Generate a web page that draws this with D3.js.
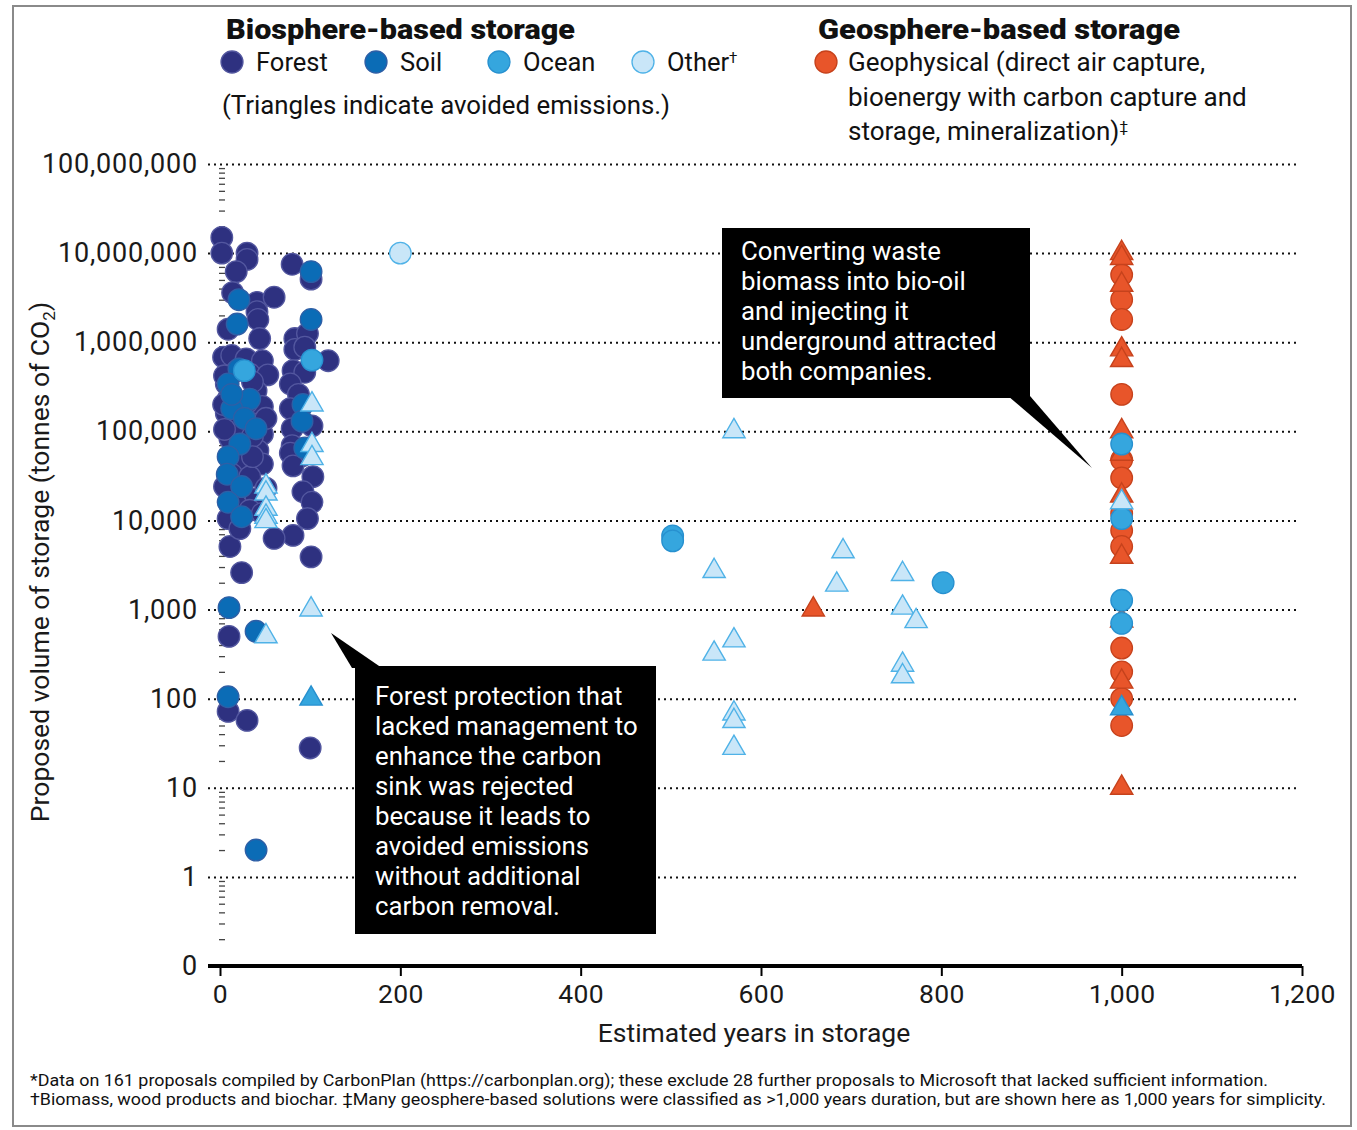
<!DOCTYPE html>
<html>
<head>
<meta charset="utf-8">
<script src="https://cdn.jsdelivr.net/npm/d3@7/dist/d3.min.js"></script>
<style>
  html, body { margin: 0; padding: 0; background: #fff; }
  svg { display: block; font-family: Roboto, "Noto Sans", sans-serif; }
</style>
</head>
<body>
<svg id="chart" width="1357" height="1130"></svg>
<script>
// ---- Data: [years in storage, tonnes of CO2] ----
const forestStored = [
  [2,1.5e7],[2,1.0e7],[30,1.0e7],[30,8.5e6],[18,6.2e6],[14,3.6e6],[41,2.8e6],[60,3.2e6],
  [41,2.2e6],[42,1.8e6],[9,1.4e6],[44,1.1e6],
  [80,7.5e6],[101,5.1e6],[83,1.1e6],[97,1.25e6],[120,6.2e5],[83,8.3e5],[94,8.8e5],[81,4.8e5],
  [94,4.6e5],[78,3.4e5],[87,2.6e5],[78,1.8e5],[80,1.07e5],[102,1.15e5],[80,6.9e4],[91,5.3e4],
  [78,5.7e4],[81,4.1e4],[103,3.1e4],[92,2.1e4],[102,1.6e4],[97,1.05e4],[81,6.8e3],[101,3.9e3],[100,28],
  [4,6.8e5],[13,7.1e5],[29,6.5e5],[47,6.2e5],[19,4.8e5],[33,4.4e5],[53,4.3e5],[7,3.4e5],[40,2.85e5],
  [9,2.3e5],[47,1.9e5],[7,1.6e5],[22,1.8e5],[39,1.2e5],[47,9.3e4],[11,8.3e4],[28,7.2e4],[42,6.1e4],
  [22,4.7e4],[47,4.3e4],[13,3.3e4],[33,3.1e4],[40,1.75e4],[17,1.55e4],[33,1.3e4],[9,1.05e4],[47,1.2e4],
  [60,6.3e3],[11,5.1e3],[24,2.6e3],[10,500],[9,72],[30,57],[51,1.4e5],[18,1.2e5],[51,2.3e4],[22,8.1e3],
  [5,4.2e5],[36,3.6e5],[4,2.0e5],[30,2.1e5],[5,1.05e5],[36,8.8e4],[5,2.4e4],[36,5.2e4]
];
const soilStored = [
  [101,6.2e6],[21,3.0e6],[19,1.6e6],[101,1.8e6],[21,5.0e5],[9,3.4e5],[33,2.3e5],[13,1.8e5],
  [27,1.4e5],[40,1.07e5],[22,7.2e4],[9,5.2e4],[8,3.3e4],[24,2.4e4],[9,1.6e4],[24,1.1e4],
  [92,2.0e5],[91,1.3e5],[94,6.5e4],[13,2.6e5],[10,1050],[40,570],[9,105],[40,2]
];
const oceanStored = [
  [102,6.3e5],[27,4.8e5],[502,6.7e3],[502,5.9e3],[802,2.0e3],
  [1000,7.2e4],[1000,1.05e4],[1000,1.27e3],[1000,700]
];
const oceanAvoided = [[101,100],[1000,78]];
const otherStored = [[200,1.0e7]];
const otherAvoided = [
  [51,2.4e4],[51,2.0e4],[51,1.35e4],[51,1.1e4],[51,9.8e3],[102,2.0e5],[102,7.0e4],[102,5.0e4],
  [101,1000],[51,500],[570,1.0e5],[548,2.7e3],[691,4.5e3],[684,1.9e3],[757,2.5e3],[757,1.05e3],
  [772,740],[570,450],[548,320],[757,240],[757,178],[570,68],[570,56],[570,28],[1000,1.6e4]
];
const geoStored = [
  [1000,5.7e6],[1000,3.0e6],[1000,1.8e6],[1000,2.6e5],[1000,4.8e4],[1000,3.0e4],[1000,1.2e4],
  [1000,7.7e3],[1000,5.1e3],[1000,370],[1000,200],[1000,100],[1000,50]
];
const geoAvoided = [
  [1000,1.0e7],[1000,8.8e6],[1000,4.4e6],[1000,8.3e5],[1000,6.3e5],[1000,1.0e5],[1000,5.6e4],
  [1000,1.9e4],[1000,3.9e3],[1000,750],[1000,155],[1000,10],[658,1000]
];

// ---- Axis ticks ----
const yTickValues = [0.1, 1, 10, 100, 1e3, 1e4, 1e5, 1e6, 1e7, 1e8];
const yTickLabels = ["0","1","10","100","1,000","10,000","100,000","1,000,000","10,000,000","100,000,000"];
const xTickValues = [0, 200, 400, 600, 800, 1000, 1200];
const xTickLabels = ["0","200","400","600","800","1,000","1,200"];

// ---- Categories and styles ----
const biosphereLegend = ["Forest", "Soil", "Ocean", "Other"];
const palette = {
  Forest:      { fill: "#2e3180", stroke: "#53579f" },
  Soil:        { fill: "#0b6cb6", stroke: "#2e5fa6" },
  Ocean:       { fill: "#35a6de", stroke: "#2790cf" },
  Other:       { fill: "#c9e6f8", stroke: "#4fb2e7" },
  Geophysical: { fill: "#e8552a", stroke: "#c6421c" }
};

const svg = d3.select("#chart");
const x = d3.scaleLinear().domain([0, 1200]).range([220, 1302]);
const y = d3.scaleLog().domain([0.1, 1e8]).range([966, 164]);

// outer frame
svg.append("rect").attr("x", 13).attr("y", 6).attr("width", 1338).attr("height", 1120)
  .attr("fill", "none").attr("stroke", "#8a8a8a").attr("stroke-width", 2);

// ---- Y axis: dotted grid + labels ----
const yAxis = svg.append("g").attr("transform", "translate(208,0)")
  .call(d3.axisLeft(y).tickValues(yTickValues).tickSize(-1092).tickPadding(10)
    .tickFormat((d, i) => yTickLabels[i]));
yAxis.select(".domain").remove();
yAxis.selectAll(".tick line")
  .attr("stroke", "#111").attr("stroke-width", 2).attr("stroke-dasharray", "2,4")
  .filter(d => d < 1).remove();
yAxis.selectAll(".tick text")
  .attr("font-size", 27).attr("letter-spacing", 0.8).attr("fill", "#1a1a1a")
  .attr("font-family", "Roboto, sans-serif");

// minor log ticks
const minorValues = [];
for (let e = -1; e < 8; e++) for (let k = 2; k <= 9; k++) minorValues.push(k * Math.pow(10, e));
const minorAxis = svg.append("g").attr("transform", "translate(225,0)")
  .call(d3.axisLeft(y).tickValues(minorValues).tickSize(6).tickFormat(""));
minorAxis.select(".domain").remove();
minorAxis.selectAll(".tick line").attr("stroke", "#444").attr("stroke-width", 1.3);

// ---- X axis ----
const xAxis = svg.append("g").attr("transform", "translate(0,966)")
  .call(d3.axisBottom(x).tickValues(xTickValues).tickSize(10).tickPadding(8)
    .tickFormat((d, i) => xTickLabels[i]));
xAxis.select(".domain").remove();
xAxis.selectAll(".tick line").attr("stroke", "#000").attr("stroke-width", 2);
xAxis.selectAll(".tick text").attr("font-size", 26.5).attr("letter-spacing", 0.4).attr("fill", "#1a1a1a")
  .attr("font-family", "Roboto, sans-serif");
svg.append("line").attr("x1", 208).attr("x2", x(1200)).attr("y1", 966).attr("y2", 966)
  .attr("stroke", "#000").attr("stroke-width", 4);

// axis titles
svg.append("text").attr("x", 754).attr("y", 1042).attr("text-anchor", "middle")
  .attr("font-size", 26.5).attr("fill", "#1a1a1a").text("Estimated years in storage");
const yTitle = svg.append("text").attr("transform", "translate(49,562) rotate(-90)")
  .attr("text-anchor", "middle").attr("font-size", 26.5).attr("fill", "#1a1a1a");
yTitle.append("tspan").text("Proposed volume of storage (tonnes of CO");
yTitle.append("tspan").attr("font-size", 17).attr("dy", 6).text("2");
yTitle.append("tspan").attr("dy", -6).text(")");

// ---- Points ----
const plot = svg.append("g");
const tri = d3.symbol().type(d3.symbolTriangle).size(215);
function drawCircles(data, cat) {
  plot.append("g").selectAll("circle").data(data).join("circle")
    .attr("cx", d => x(d[0])).attr("cy", d => y(d[1])).attr("r", 10.8)
    .attr("fill", palette[cat].fill).attr("stroke", palette[cat].stroke).attr("stroke-width", 1.3);
}
function drawTriangles(data, cat) {
  plot.append("g").selectAll("path").data(data).join("path")
    .attr("d", tri).attr("transform", d => `translate(${x(d[0])},${y(d[1])})`)
    .attr("fill", palette[cat].fill).attr("stroke", palette[cat].stroke).attr("stroke-width", 1.4);
}
drawCircles(forestStored, "Forest");
drawCircles(soilStored, "Soil");
drawCircles(geoStored, "Geophysical");
drawTriangles(geoAvoided, "Geophysical");
drawCircles(oceanStored, "Ocean");
drawTriangles(oceanAvoided, "Ocean");
drawCircles(otherStored, "Other");
drawTriangles(otherAvoided, "Other");

// ---- Callouts ----
function callout(box, pointer, lines, tx, ty) {
  const g = svg.append("g");
  g.append("polygon").attr("points", pointer.map(p => p.join(",")).join(" ")).attr("fill", "#000");
  g.append("rect").attr("x", box[0]).attr("y", box[1]).attr("width", box[2]).attr("height", box[3])
    .attr("fill", "#000");
  g.append("text").attr("fill", "#fff").attr("font-size", 25.8)
    .selectAll("tspan").data(lines).join("tspan")
    .attr("x", tx).attr("y", (d, i) => ty + i * 30).text(d => d);
}
callout([722, 228, 308, 170], [[1008, 396], [1030, 396], [1092, 468]],
  ["Converting waste", "biomass into bio-oil", "and injecting it", "underground attracted", "both companies."],
  741, 260);
callout([355, 666, 301, 268], [[331, 633], [352, 668], [382, 668]],
  ["Forest protection that", "lacked management to", "enhance the carbon", "sink was rejected",
   "because it leads to", "avoided emissions", "without additional", "carbon removal."],
  375, 705);

// ---- Legend ----
const legend = svg.append("g").attr("fill", "#111");
legend.append("text").attr("x", 226).attr("y", 39).attr("font-size", 28.5).attr("font-weight", 900)
  .attr("textLength", 349).attr("lengthAdjust", "spacingAndGlyphs")
  .text("Biosphere-based storage");
const legendX = [232, 376, 499, 643];
biosphereLegend.forEach((cat, i) => {
  legend.append("circle").attr("cx", legendX[i]).attr("cy", 62).attr("r", 11)
    .attr("fill", palette[cat].fill).attr("stroke", palette[cat].stroke).attr("stroke-width", 1.3);
  const t = legend.append("text").attr("x", legendX[i] + 24).attr("y", 71).attr("font-size", 25.5).text(cat);
  if (cat === "Other") t.append("tspan").attr("font-size", 15).attr("dy", -8).text("†");
});
legend.append("text").attr("x", 222).attr("y", 114).attr("font-size", 25.5)
  .attr("textLength", 448).attr("lengthAdjust", "spacingAndGlyphs")
  .text("(Triangles indicate avoided emissions.)");
legend.append("text").attr("x", 818).attr("y", 39).attr("font-size", 28.5).attr("font-weight", 900)
  .attr("textLength", 362).attr("lengthAdjust", "spacingAndGlyphs")
  .text("Geosphere-based storage");
legend.append("circle").attr("cx", 826).attr("cy", 62).attr("r", 11)
  .attr("fill", palette.Geophysical.fill).attr("stroke", palette.Geophysical.stroke).attr("stroke-width", 1.3);
const geoLines = ["Geophysical (direct air capture,", "bioenergy with carbon capture and", "storage, mineralization)"];
geoLines.forEach((line, i) => {
  const t = legend.append("text").attr("x", 848).attr("y", 71 + i * 34.5).attr("font-size", 26).text(line);
  if (i === 2) t.append("tspan").attr("font-size", 15).attr("dy", -8).text("‡");
});

// ---- Footnotes ----
svg.append("text").attr("x", 30).attr("y", 1086).attr("font-size", 16.5).attr("fill", "#111")
  .attr("textLength", 1238).attr("lengthAdjust", "spacingAndGlyphs")
  .text("*Data on 161 proposals compiled by CarbonPlan (https://carbonplan.org); these exclude 28 further proposals to Microsoft that lacked sufficient information.");
svg.append("text").attr("x", 30).attr("y", 1105).attr("font-size", 16.5).attr("fill", "#111")
  .attr("textLength", 1296).attr("lengthAdjust", "spacingAndGlyphs")
  .text("†Biomass, wood products and biochar. ‡Many geosphere-based solutions were classified as >1,000 years duration, but are shown here as 1,000 years for simplicity.");
</script>
</body>
</html>
